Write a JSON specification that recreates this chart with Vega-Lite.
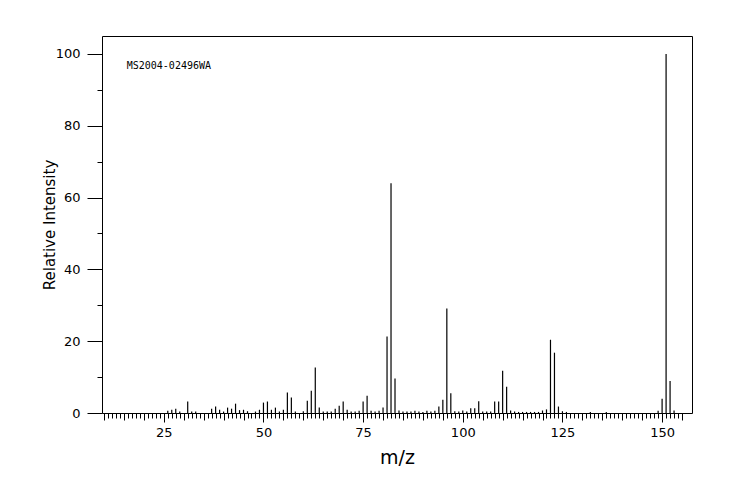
{
  "$schema": "https://vega.github.io/schema/vega-lite/v6.json",
  "autosize": {"type": "none"},
  "width": 590,
  "height": 377,
  "padding": {"left": 102, "top": 36, "right": 52, "bottom": 87},
  "background": "white",
  "config": {
    "view": {"stroke": "black", "strokeWidth": 1},
    "axis": {
      "domain": false,
      "grid": false,
      "tickColor": "black",
      "tickWidth": 1,
      "labelColor": "black",
      "labelFont": "DejaVu Sans",
      "labelFontSize": 13,
      "titleColor": "black",
      "titleFont": "DejaVu Sans",
      "titleFontWeight": "normal",
      "labelOverlap": false,
      "labelFlush": false,
      "tickCount": 300,
      "format": "d"
    }
  },
  "layer": [
    {
      "data": {
        "values": [
          {"mz": 26, "intensity": 0.65}, {"mz": 27, "intensity": 0.9}, {"mz": 28, "intensity": 1.2},
          {"mz": 29, "intensity": 0.4}, {"mz": 31, "intensity": 3.2}, {"mz": 32, "intensity": 0.4},
          {"mz": 33, "intensity": 0.4}, {"mz": 37, "intensity": 1.2}, {"mz": 38, "intensity": 1.8},
          {"mz": 39, "intensity": 0.9}, {"mz": 40, "intensity": 0.4}, {"mz": 41, "intensity": 1.5},
          {"mz": 42, "intensity": 1.2}, {"mz": 43, "intensity": 2.6}, {"mz": 44, "intensity": 0.8},
          {"mz": 45, "intensity": 0.9}, {"mz": 46, "intensity": 0.5}, {"mz": 48, "intensity": 0.4},
          {"mz": 49, "intensity": 0.9}, {"mz": 50, "intensity": 2.9}, {"mz": 51, "intensity": 3.2},
          {"mz": 52, "intensity": 0.9}, {"mz": 53, "intensity": 1.5}, {"mz": 54, "intensity": 0.4},
          {"mz": 55, "intensity": 0.9}, {"mz": 56, "intensity": 5.7}, {"mz": 57, "intensity": 4.3},
          {"mz": 58, "intensity": 0.4}, {"mz": 60, "intensity": 0.5}, {"mz": 61, "intensity": 3.4},
          {"mz": 62, "intensity": 6.2}, {"mz": 63, "intensity": 12.7}, {"mz": 64, "intensity": 1.5},
          {"mz": 65, "intensity": 0.4}, {"mz": 66, "intensity": 0.4}, {"mz": 67, "intensity": 0.4},
          {"mz": 68, "intensity": 1.2}, {"mz": 69, "intensity": 2.0}, {"mz": 70, "intensity": 3.2},
          {"mz": 71, "intensity": 0.9}, {"mz": 72, "intensity": 0.4}, {"mz": 73, "intensity": 0.4},
          {"mz": 74, "intensity": 0.6}, {"mz": 75, "intensity": 3.2}, {"mz": 76, "intensity": 4.8},
          {"mz": 77, "intensity": 0.6}, {"mz": 78, "intensity": 0.4}, {"mz": 79, "intensity": 0.6},
          {"mz": 80, "intensity": 1.5}, {"mz": 81, "intensity": 21.3}, {"mz": 82, "intensity": 64.0},
          {"mz": 83, "intensity": 9.6}, {"mz": 84, "intensity": 0.7}, {"mz": 85, "intensity": 0.4},
          {"mz": 86, "intensity": 0.4}, {"mz": 87, "intensity": 0.4}, {"mz": 88, "intensity": 0.6},
          {"mz": 89, "intensity": 0.4}, {"mz": 90, "intensity": 0.3}, {"mz": 91, "intensity": 0.6},
          {"mz": 92, "intensity": 0.4}, {"mz": 93, "intensity": 0.6}, {"mz": 94, "intensity": 1.8},
          {"mz": 95, "intensity": 3.7}, {"mz": 96, "intensity": 29.1}, {"mz": 97, "intensity": 5.5},
          {"mz": 98, "intensity": 0.5}, {"mz": 99, "intensity": 0.4}, {"mz": 100, "intensity": 0.7},
          {"mz": 101, "intensity": 0.4}, {"mz": 102, "intensity": 1.3}, {"mz": 103, "intensity": 1.3},
          {"mz": 104, "intensity": 3.3}, {"mz": 105, "intensity": 0.4}, {"mz": 106, "intensity": 0.4},
          {"mz": 107, "intensity": 0.4}, {"mz": 108, "intensity": 3.2}, {"mz": 109, "intensity": 3.2},
          {"mz": 110, "intensity": 11.8}, {"mz": 111, "intensity": 7.3}, {"mz": 112, "intensity": 0.7},
          {"mz": 113, "intensity": 0.4}, {"mz": 114, "intensity": 0.3}, {"mz": 115, "intensity": 0.3},
          {"mz": 116, "intensity": 0.3}, {"mz": 117, "intensity": 0.3}, {"mz": 118, "intensity": 0.3},
          {"mz": 119, "intensity": 0.3}, {"mz": 120, "intensity": 0.7}, {"mz": 121, "intensity": 1.0},
          {"mz": 122, "intensity": 20.4}, {"mz": 123, "intensity": 16.8}, {"mz": 124, "intensity": 1.8},
          {"mz": 125, "intensity": 0.5}, {"mz": 126, "intensity": 0.3}, {"mz": 132, "intensity": 0.3},
          {"mz": 136, "intensity": 0.3}, {"mz": 149, "intensity": 0.6}, {"mz": 150, "intensity": 4.0},
          {"mz": 151, "intensity": 100}, {"mz": 152, "intensity": 8.9}, {"mz": 153, "intensity": 0.7}
        ]
      },
      "mark": {"type": "rule", "color": "black", "strokeWidth": 1.2},
      "encoding": {
        "x": {
          "field": "mz",
          "type": "quantitative",
          "scale": {"domain": [9.5, 157.5], "nice": false, "zero": false},
          "axis": {
            "title": "m/z",
            "titleFontSize": 19,
            "titlePadding": 9,
            "values": [10,11,12,13,14,15,16,17,18,19,20,21,22,23,24,25,26,27,28,29,30,31,32,33,34,35,36,37,38,39,40,41,42,43,44,45,46,47,48,49,50,51,52,53,54,55,56,57,58,59,60,61,62,63,64,65,66,67,68,69,70,71,72,73,74,75,76,77,78,79,80,81,82,83,84,85,86,87,88,89,90,91,92,93,94,95,96,97,98,99,100,101,102,103,104,105,106,107,108,109,110,111,112,113,114,115,116,117,118,119,120,121,122,123,124,125,126,127,128,129,130,131,132,133,134,135,136,137,138,139,140,141,142,143,144,145,146,147,148,149,150,151,152,153,154,155],
            "labelExpr": "datum.value % 25 === 0 ? datum.label : ''",
            "tickSize": {"condition": [{"test": "datum.value % 25 === 0", "value": 9}, {"test": "datum.value % 5 === 0", "value": 7}], "value": 5},
            "labelPadding": 4
          }
        },
        "y": {
          "field": "intensity",
          "type": "quantitative",
          "scale": {"domain": [0, 105], "nice": false},
          "axis": {
            "title": "Relative Intensity",
            "titleFontSize": 15,
            "titlePadding": -2,
            "values": [0, 10, 20, 30, 40, 50, 60, 70, 80, 90, 100],
            "labelExpr": "datum.value % 20 === 0 ? datum.label : ''",
            "tickSize": {"condition": {"test": "datum.value % 20 === 0", "value": 15}, "value": 5},
            "labelPadding": 7
          }
        },
        "y2": {"datum": 0}
      }
    },
    {
      "data": {"values": [{"mz": 15.7, "intensity": 96.7, "label": "MS2004-02496WA"}]},
      "mark": {"type": "text", "align": "left", "baseline": "middle", "font": "DejaVu Sans Mono", "fontSize": 10, "color": "black"},
      "encoding": {
        "x": {"field": "mz", "type": "quantitative"},
        "y": {"field": "intensity", "type": "quantitative"},
        "text": {"field": "label"}
      }
    }
  ]
}
